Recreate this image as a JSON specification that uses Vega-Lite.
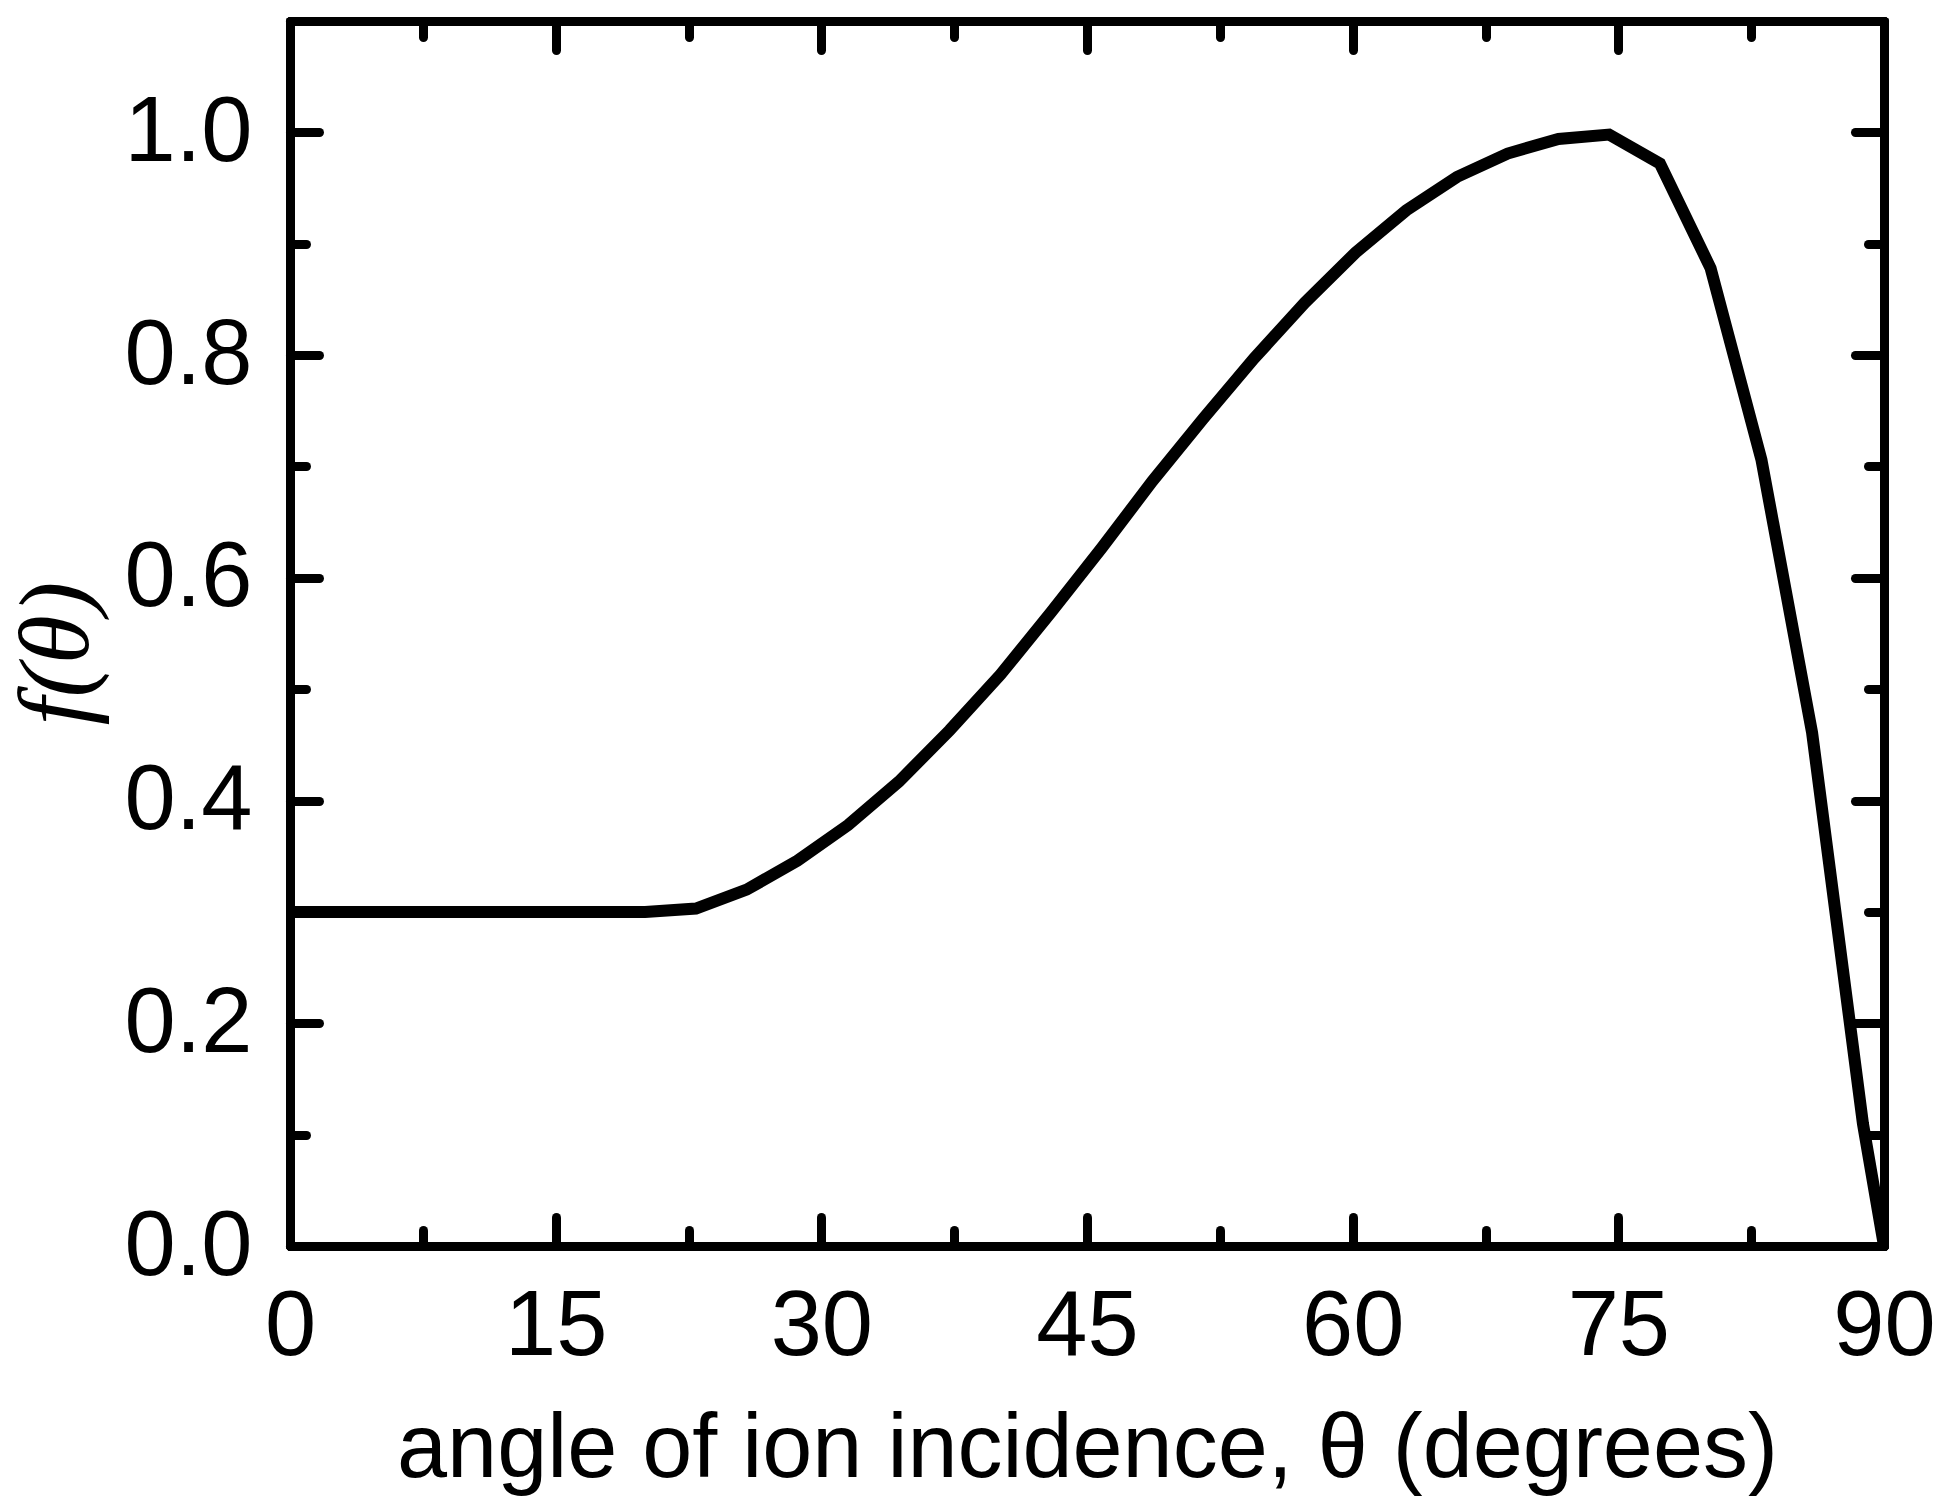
{
  "$schema": "https://vega.github.io/schema/vega-lite/v6.json",
  "width": 1594,
  "height": 1225,
  "autosize": {"type": "none"},
  "padding": {"left": 290, "top": 21, "right": 58, "bottom": 260},
  "background": "white",
  "config": {
    "view": {"stroke": null},
    "axis": {
      "grid": false,
      "domainColor": "black",
      "domainWidth": 9,
      "domainCap": "round",
      "tickColor": "black",
      "tickWidth": 9,
      "tickCap": "round",
      "labelFont": "Liberation Sans",
      "labelFontSize": 92,
      "labelColor": "black",
      "labelOverlap": false,
      "labelFlush": false,
      "titleFont": "Liberation Sans",
      "titleFontSize": 90,
      "titleFontWeight": "normal",
      "titleColor": "black"
    }
  },
  "data": {
    "values": [
      {"theta": 0, "f": 0.3},
      {"theta": 20.05, "f": 0.3},
      {"theta": 22.92, "f": 0.303},
      {"theta": 25.78, "f": 0.32},
      {"theta": 28.65, "f": 0.346},
      {"theta": 31.51, "f": 0.378},
      {"theta": 34.38, "f": 0.417},
      {"theta": 37.24, "f": 0.463},
      {"theta": 40.11, "f": 0.513},
      {"theta": 42.97, "f": 0.569},
      {"theta": 45.84, "f": 0.627},
      {"theta": 48.7, "f": 0.687},
      {"theta": 51.57, "f": 0.743},
      {"theta": 54.43, "f": 0.797},
      {"theta": 57.3, "f": 0.847},
      {"theta": 60.16, "f": 0.892},
      {"theta": 63.03, "f": 0.93},
      {"theta": 65.89, "f": 0.96},
      {"theta": 68.75, "f": 0.981},
      {"theta": 71.62, "f": 0.994},
      {"theta": 74.48, "f": 0.998},
      {"theta": 77.35, "f": 0.972},
      {"theta": 80.21, "f": 0.878},
      {"theta": 83.08, "f": 0.706},
      {"theta": 85.94, "f": 0.461},
      {"theta": 88.81, "f": 0.11},
      {"theta": 90, "f": 0}
    ]
  },
  "layer": [
    {
      "mark": {"type": "line", "color": "black", "strokeWidth": 12, "strokeJoin": "miter", "clip": true},
      "encoding": {
        "x": {
          "field": "theta",
          "type": "quantitative",
          "scale": {"domain": [0, 90], "nice": false, "zero": false},
          "axis": {
            "orient": "bottom",
            "values": [0, 7.5, 15, 22.5, 30, 37.5, 45, 52.5, 60, 67.5, 75, 82.5, 90],
            "tickSize": {"condition": {"test": "datum.value % 15 === 0", "value": -29}, "value": -16},
            "labelExpr": "datum.value % 15 === 0 ? format(datum.value, 'd') : ''",
            "labelPadding": 64,
            "title": "angle of ion incidence, θ (degrees)",
            "titlePadding": 20
          }
        },
        "y": {
          "field": "f",
          "type": "quantitative",
          "scale": {"domain": [0, 1.1], "nice": false},
          "axis": {
            "orient": "left",
            "values": [0, 0.1, 0.2, 0.3, 0.4, 0.5, 0.6, 0.7, 0.8, 0.9, 1.0],
            "tickSize": {"condition": {"test": "round(datum.value * 10) % 2 === 0", "value": -29}, "value": -16},
            "labelExpr": "round(datum.value * 10) % 2 === 0 ? format(datum.value, '.1f') : ''",
            "labelPadding": 67,
            "title": "f(θ)",
            "titleFont": "Liberation Serif",
            "titleFontStyle": "italic",
            "titleFontSize": 100,
            "titlePadding": 16,
            "titleY": 632
          }
        }
      }
    },
    {
      "mark": {"type": "line", "opacity": 0},
      "encoding": {
        "x": {
          "field": "theta",
          "type": "quantitative",
          "scale": {"domain": [0, 90], "nice": false, "zero": false},
          "axis": {
            "orient": "top",
            "values": [0, 7.5, 15, 22.5, 30, 37.5, 45, 52.5, 60, 67.5, 75, 82.5, 90],
            "tickSize": {"condition": {"test": "datum.value % 15 === 0", "value": -29}, "value": -16},
            "labels": false,
            "title": null
          }
        },
        "y": {
          "field": "f",
          "type": "quantitative",
          "scale": {"domain": [0, 1.1], "nice": false},
          "axis": {
            "orient": "right",
            "values": [0, 0.1, 0.2, 0.3, 0.4, 0.5, 0.6, 0.7, 0.8, 0.9, 1.0],
            "tickSize": {"condition": {"test": "round(datum.value * 10) % 2 === 0", "value": -29}, "value": -16},
            "labels": false,
            "title": null
          }
        }
      }
    }
  ],
  "resolve": {"axis": {"x": "independent", "y": "independent"}}
}
